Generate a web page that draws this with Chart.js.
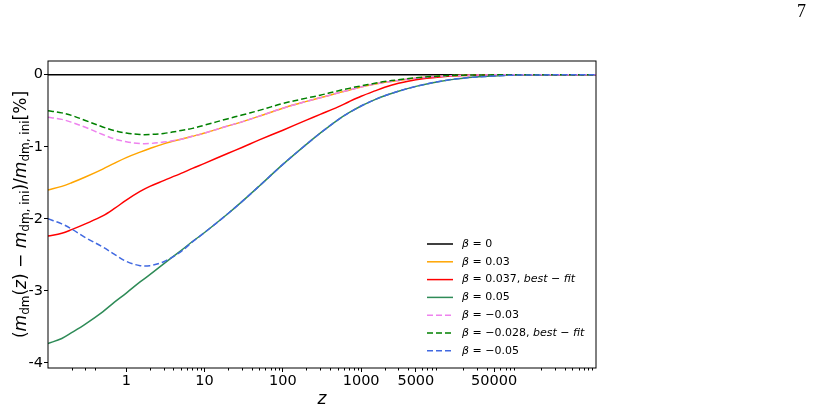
<!DOCTYPE html>
<html>
<head>
<meta charset="utf-8">
<script src="https://cdn.jsdelivr.net/npm/chart.js@4"></script>
<style>
  body { margin: 0; background: #fff; }
  #wrap { position: relative; width: 815px; height: 412px; }
  #page { position: absolute; left: 797px; top: 1px; font: 18px "Liberation Serif", "DejaVu Serif", serif; color: #000; }
</style>
</head>
<body>
<div id="wrap">
  <canvas id="chart"></canvas>
  <div id="page">7</div>
</div>
<script>
// redshift samples
const zValues = [0.1, 0.15, 0.2, 0.3, 0.5, 0.7, 1, 1.5, 2, 3, 5, 7, 10, 20, 30, 50, 100, 200, 300, 500, 700, 1000, 1500, 2000, 3000, 5000, 10000, 20000, 50000, 100000, 1000000];

const beta0     = zValues.map(() => 0);
const beta003   = [-1.60, -1.55, -1.50, -1.42, -1.31, -1.23, -1.15, -1.075, -1.025, -0.96, -0.895, -0.855, -0.81, -0.71, -0.655, -0.575, -0.465, -0.37, -0.32, -0.255, -0.215, -0.17, -0.13, -0.105, -0.08, -0.05, -0.022, -0.009, -0.002, -0.001, 0];
const beta0037  = [-2.24, -2.20, -2.15, -2.07, -1.96, -1.86, -1.74, -1.62, -1.55, -1.47, -1.37, -1.30, -1.23, -1.09, -1.01, -0.905, -0.77, -0.63, -0.55, -0.45, -0.375, -0.30, -0.225, -0.175, -0.12, -0.07, -0.032, -0.012, -0.003, -0.001, 0];
const beta005   = [-3.73, -3.66, -3.58, -3.46, -3.29, -3.16, -3.03, -2.875, -2.775, -2.625, -2.44, -2.315, -2.19, -1.926, -1.762, -1.545, -1.245, -0.966, -0.811, -0.629, -0.527, -0.434, -0.346, -0.292, -0.229, -0.162, -0.093, -0.048, -0.018, -0.006, 0];
const betaM003  = [-0.59, -0.62, -0.66, -0.73, -0.83, -0.89, -0.93, -0.955, -0.955, -0.935, -0.895, -0.855, -0.81, -0.71, -0.655, -0.575, -0.465, -0.37, -0.32, -0.255, -0.215, -0.17, -0.13, -0.105, -0.08, -0.05, -0.022, -0.009, -0.002, -0.001, 0];
const betaM0028 = [-0.50, -0.53, -0.565, -0.635, -0.725, -0.775, -0.81, -0.83, -0.83, -0.815, -0.775, -0.745, -0.70, -0.61, -0.56, -0.495, -0.40, -0.325, -0.285, -0.225, -0.19, -0.155, -0.12, -0.095, -0.07, -0.043, -0.019, -0.007, -0.002, 0, 0];
const betaM005  = [-2.00, -2.07, -2.14, -2.26, -2.39, -2.49, -2.59, -2.65, -2.65, -2.595, -2.455, -2.32, -2.19, -1.926, -1.762, -1.545, -1.245, -0.966, -0.811, -0.629, -0.527, -0.434, -0.346, -0.292, -0.229, -0.162, -0.093, -0.048, -0.018, -0.006, 0];

const labels = ["β = 0", "β = 0.03", "β = 0.037, best − fit", "β = 0.05", "β = −0.03", "β = −0.028, best − fit", "β = −0.05"];
const colors = ["#000000", "#ffa500", "#ff0000", "#2e8b57", "#ee82ee", "#008000", "#4169e1"];
const dashed = [false, false, false, false, true, true, true];
const series = [beta0, beta003, beta0037, beta005, betaM003, betaM0028, betaM005];

const xMajor = [1, 10, 100, 1000, 5000, 50000];
const yMajor = [0, -1, -2, -3, -4];

const FONT = "DejaVu Sans";

const datasets = series.map((s, i) => ({
    label: labels[i],
    data: zValues.map((z, j) => ({ x: z, y: s[j] })),
    borderColor: colors[i],
    borderWidth: 1.5,
    borderDash: dashed[i] ? [6, 3] : [],
    pointRadius: 0,
    tension: 0.35,
    fill: false,
    order: series.length - i
}));

const frame = {
    id: "frame",
    afterDraw(chart) {
        const ctx = chart.ctx;
        const a = chart.chartArea;
        const xs = chart.scales.x;
        ctx.save();
        ctx.strokeStyle = "#000";
        ctx.lineWidth = 1;
        ctx.strokeRect(a.left, a.top, a.right - a.left, a.bottom - a.top);

        // minor log ticks
        for (let d = 0.1; d < 2e6; d *= 10) {
            for (let m = 2; m <= 9; m++) {
                const v = m * d;
                if (v < xs.min || v > xs.max || xMajor.includes(Math.round(v))) continue;
                const px = Math.round(xs.getPixelForValue(v)) + 0.5;
                ctx.beginPath();
                ctx.moveTo(px, a.bottom);
                ctx.lineTo(px, a.bottom + 2.5);
                ctx.stroke();
            }
        }

        // x label
        ctx.fillStyle = "#000";
        ctx.textAlign = "center";
        ctx.textBaseline = "middle";
        ctx.font = "italic 17px " + FONT;
        ctx.fillText("z", (a.left + a.right) / 2, 400);

        // y label with subscripts
        const F = 17, S = 12;
        const segs = [
            ["(", "n"], ["m", "i"], ["dm", "s"], ["(", "n"], ["z", "i"], [")", "n"], [" − ", "n"],
            ["m", "i"], ["dm, ini", "s"], [")/", "n"], ["m", "i"], ["dm, ini", "s"], ["[%]", "n"]
        ];
        const fontOf = k => k === "i" ? "italic " + F + "px " + FONT : (k === "s" ? S + "px " + FONT : F + "px " + FONT);
        let total = 0;
        segs.forEach(([t, k]) => { ctx.font = fontOf(k); total += ctx.measureText(t).width; });
        ctx.translate(20, (a.top + a.bottom) / 2);
        ctx.rotate(-Math.PI / 2);
        ctx.textAlign = "left";
        ctx.textBaseline = "alphabetic";
        let x = -total / 2;
        segs.forEach(([t, k]) => {
            ctx.font = fontOf(k);
            ctx.fillText(t, x, k === "s" ? 9 : 6);
            x += ctx.measureText(t).width;
        });
        ctx.restore();

        // legend
        ctx.save();
        const lx0 = 427, lx1 = 453, tx = 462, y0 = 244, dy = 17.8;
        labels.forEach((lab, i) => {
            const y = y0 + i * dy;
            ctx.strokeStyle = colors[i];
            ctx.lineWidth = 1.5;
            ctx.setLineDash(dashed[i] ? [6, 3] : []);
            ctx.beginPath();
            ctx.moveTo(lx0, y);
            ctx.lineTo(lx1, y);
            ctx.stroke();
            ctx.setLineDash([]);
            ctx.fillStyle = "#000";
            ctx.textBaseline = "middle";
            ctx.textAlign = "left";
            let x2 = tx;
            lab.split(/(β|best − fit)/).filter(p => p).forEach(p => {
                const it = p === "β" || p === "best − fit";
                ctx.font = (it ? "italic " : "") + "11px " + FONT;
                ctx.fillText(p, x2, y);
                x2 += ctx.measureText(p).width;
            });
        });
        ctx.restore();
    }
};

new Chart(document.getElementById("chart"), {
    type: "line",
    data: { datasets: datasets },
    options: {
        responsive: true,
        maintainAspectRatio: false,
        animation: false,
        layout: { padding: { left: 0, top: 61, right: 219, bottom: 0 } },
        plugins: { legend: { display: false }, tooltip: { enabled: false } },
        scales: {
            x: {
                type: "logarithmic",
                min: 0.1,
                max: 1000000,
                afterBuildTicks: s => { s.ticks = xMajor.map(v => ({ value: v })); },
                afterFit: s => { s.height = 44; },
                border: { display: false },
                grid: { drawOnChartArea: false, color: "#000", tickLength: 4 },
                ticks: {
                    autoSkip: false, maxRotation: 0, padding: 1, color: "#000",
                    font: { family: FONT, size: 14.5 },
                    callback: v => String(v)
                }
            },
            y: {
                type: "linear",
                min: -4.07,
                max: 0.19,
                afterBuildTicks: s => { s.ticks = yMajor.map(v => ({ value: v })); },
                afterFit: s => { s.width = 48; },
                border: { display: false },
                grid: { drawOnChartArea: false, color: "#000", tickLength: 4 },
                ticks: {
                    padding: 1, color: "#000",
                    font: { family: FONT, size: 14.5 },
                    callback: v => String(v)
                }
            }
        }
    },
    plugins: [frame]
});
</script>
</body>
</html>
